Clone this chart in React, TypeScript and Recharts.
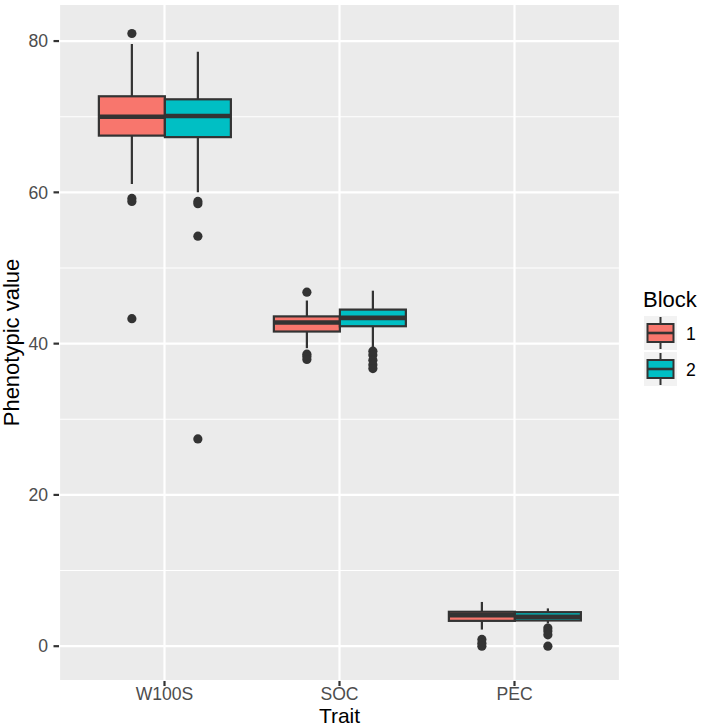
import React from 'react';
import { ComposedChart, Bar, XAxis, YAxis, CartesianGrid, Legend, Label } from 'recharts';

const traits = ['W100S', 'SOC', 'PEC'];

const block1Low = [61.1, 39.4, 2.2];
const block1Q1 = [67.5, 41.6, 3.35];
const block1Median = [70.0, 42.8, 4.1];
const block1Q3 = [72.7, 43.6, 4.55];
const block1High = [79.6, 45.7, 5.85];
const block1Outliers = [
  [81.0, 59.2, 58.8, 43.3],
  [46.8, 38.6, 38.3, 37.9],
  [0.9, 0.4, 0.0],
];

const block2Low = [60.0, 39.4, 3.0];
const block2Q1 = [67.3, 42.3, 3.4];
const block2Median = [70.1, 43.4, 3.9];
const block2Q3 = [72.3, 44.5, 4.5];
const block2High = [78.6, 47.0, 5.0];
const block2Outliers = [
  [58.8, 58.5, 54.2, 27.4],
  [39.0, 38.5, 37.8, 37.2, 36.7],
  [2.4, 2.0, 1.5, 0.0],
];

const yTicks = [0, 20, 40, 60, 80];
const yMinor = [10, 30, 50, 70];
const blockLabels = ['1', '2'];
const blockColors = ['#F8766D', '#00BFC4'];

const data = traits.map((t, i) => ({
  trait: t,
  b1: { low: block1Low[i], q1: block1Q1[i], median: block1Median[i], q3: block1Q3[i], high: block1High[i], outliers: block1Outliers[i] },
  b2: { low: block2Low[i], q1: block2Q1[i], median: block2Median[i], q3: block2Q3[i], high: block2High[i], outliers: block2Outliers[i] },
}));

const FONT = '"Liberation Sans", Arial, Helvetica, sans-serif';
const DARK = '#333333';
const TICK_FS = 17.6;
const TITLE_FS = 22;

const makeShape = (key: 'b1' | 'b2', fill: string) => (props: any) => {
  const { x, y, width, height, payload } = props;
  const s = payload[key];
  const top = Math.min(y, y + height);
  const bot = Math.max(y, y + height);
  const py = (v: number) => top + ((bot - top) * (s.high - v)) / (s.high - s.low);
  const cx = x + width / 2;
  return (
    <g>
      <line x1={cx} x2={cx} y1={py(s.high)} y2={py(s.q3)} stroke={DARK} strokeWidth={2.2} />
      <line x1={cx} x2={cx} y1={py(s.q1)} y2={py(s.low)} stroke={DARK} strokeWidth={2.2} />
      <rect x={x} y={py(s.q3)} width={width} height={py(s.q1) - py(s.q3)} fill={fill} stroke={DARK} strokeWidth={2.2} />
      <line x1={x} x2={x + width} y1={py(s.median)} y2={py(s.median)} stroke={DARK} strokeWidth={4.6} />
      {s.outliers.map((o: number, i: number) => (
        <circle key={i} cx={cx} cy={py(o)} r={4.6} fill={DARK} />
      ))}
    </g>
  );
};

const renderLegend = () => (
  <svg width={65} height={110} style={{ overflow: 'visible' }}>
    <text x={7} y={22} fontSize={TITLE_FS} fontFamily={FONT} fill="#000">Block</text>
    {blockLabels.map((lab, i) => {
      const c = 48 + i * 36;
      return (
        <g key={lab}>
          <rect x={8} y={c - 17} width={33} height={34} fill="#F2F2F2" />
          <line x1={24.5} x2={24.5} y1={c - 16} y2={c + 16} stroke={DARK} strokeWidth={2} />
          <rect x={11.5} y={c - 9} width={26} height={18} fill={blockColors[i]} stroke={DARK} strokeWidth={2} />
          <line x1={11.5} x2={37.5} y1={c} y2={c} stroke={DARK} strokeWidth={2.6} />
          <text x={50} y={c + 6.5} fontSize={TICK_FS} fontFamily={FONT} fill="#000">{lab}</text>
        </g>
      );
    })}
  </svg>
);

export default function App() {
  return (
    <div style={{ position: 'absolute', left: 0, top: 0, width: 701, height: 728, background: '#fff' }}>
      <ComposedChart
        width={701}
        height={728}
        data={data}
        margin={{ top: 4, right: 81, bottom: 0, left: 0 }}
        barCategoryGap="12.5%"
        barGap={0}
      >
        <CartesianGrid fill="#EBEBEB" stroke="#FFFFFF" strokeWidth={1.1} vertical={false} horizontalValues={yMinor} />
        <CartesianGrid fill="none" stroke="#FFFFFF" strokeWidth={2.2} />
        <XAxis
          dataKey="trait"
          type="category"
          padding={{ left: 18, right: 18 }}
          height={47}
          axisLine={false}
          tickSize={5}
          tickMargin={1.5}
          tickLine={{ stroke: DARK, strokeWidth: 2.2 }}
          tick={{ fill: '#4D4D4D', fontSize: TICK_FS, fontFamily: FONT }}
        >
          <Label value="Trait" position="insideBottom" offset={5} fill="#000" fontSize={21} fontFamily={FONT} />
        </XAxis>
        <YAxis
          type="number"
          domain={[-4.6, 84.9]}
          ticks={yTicks}
          width={59}
          axisLine={false}
          tickSize={5.5}
          tickMargin={5.5}
          tickLine={{ stroke: DARK, strokeWidth: 2.2 }}
          tick={{ fill: '#4D4D4D', fontSize: TICK_FS, fontFamily: FONT }}
          allowDataOverflow
        >
          <Label
            content={(p: any) => {
              const vb = p.viewBox || { x: 0, y: 4, width: 59, height: 677 };
              const cx = vb.x + 19;
              const cy = vb.y + vb.height / 2;
              return (
                <text x={cx} y={cy} transform={`rotate(-90, ${cx}, ${cy})`} textAnchor="middle" fontSize={TITLE_FS} fontFamily={FONT} fill="#000">
                  Phenotypic value
                </text>
              );
            }}
          />
        </YAxis>
        <Bar dataKey={(d: any) => [d.b1.low, d.b1.high]} name="1" fill={blockColors[0]} shape={makeShape('b1', blockColors[0])} isAnimationActive={false} />
        <Bar dataKey={(d: any) => [d.b2.low, d.b2.high]} name="2" fill={blockColors[1]} shape={makeShape('b2', blockColors[1])} isAnimationActive={false} />
        <Legend
          layout="horizontal"
          verticalAlign="middle"
          align="center"
          content={renderLegend}
          wrapperStyle={{ position: 'absolute', left: 636, top: 285, width: 65, height: 110 }}
        />
      </ComposedChart>
    </div>
  );
}
